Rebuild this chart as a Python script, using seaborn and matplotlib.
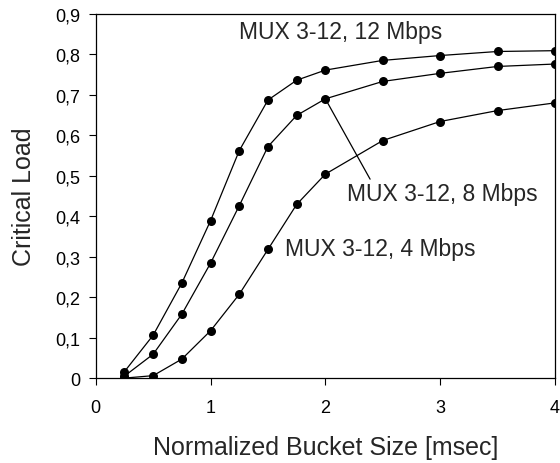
import numpy as np
import pandas as pd
import matplotlib
matplotlib.use("Agg")
import matplotlib.pyplot as plt
from matplotlib.ticker import FuncFormatter
import seaborn as sns

# bucket sizes (msec)
bucket = [0.25, 0.5, 0.75, 1.0, 1.25, 1.5, 1.75, 2.0, 2.5, 3.0, 3.5, 4.0]

# critical load for each line rate
load_12 = [0.016, 0.106, 0.235, 0.389, 0.562, 0.687, 0.736, 0.761, 0.785, 0.797, 0.807, 0.809]
load_8 = [0.005, 0.059, 0.158, 0.284, 0.426, 0.572, 0.649, 0.690, 0.733, 0.753, 0.770, 0.776]
load_4 = [0.0, 0.006, 0.047, 0.117, 0.207, 0.318, 0.429, 0.504, 0.587, 0.634, 0.661, 0.680]

labels = ["MUX 3-12, 12 Mbps", "MUX 3-12, 8 Mbps", "MUX 3-12, 4 Mbps"]

df = pd.DataFrame({
    "bucket": bucket * 3,
    "load": load_12 + load_8 + load_4,
    "series": [labels[0]] * 12 + [labels[1]] * 12 + [labels[2]] * 12,
})

sns.set_style("white")
plt.rcParams["font.family"] = ["Liberation Sans", "DejaVu Sans"]

fig = plt.figure(figsize=(5.6, 4.64), dpi=100)
ax = fig.add_axes([0.171, 0.183, 0.82, 0.785])

sns.lineplot(data=df, x="bucket", y="load", hue="series",
             palette=["black"] * 3, marker="o", markersize=6.5,
             markeredgewidth=0, linewidth=0.9, legend=False, ax=ax)

ax.set_xlim(0, 4)
ax.set_ylim(0, 0.9)
ax.set_xticks([0, 1, 2, 3, 4])
ax.set_yticks(np.arange(0, 0.91, 0.1))
ax.yaxis.set_major_formatter(FuncFormatter(
    lambda v, p: "0" if abs(v) < 1e-9 else f"{v:.1f}".replace(".", ",")))
ax.tick_params(direction="out", length=5, width=0.8, labelsize=13,
               bottom=True, left=True, colors="black")
ax.tick_params(axis="x", pad=10)
ax.tick_params(axis="y", pad=6)
for s in ax.spines.values():
    s.set_color("black")
    s.set_linewidth(0.9)

ax.set_xlabel("Normalized Bucket Size [msec]", fontsize=18, labelpad=14)
ax.set_ylabel("Critical Load", fontsize=18, labelpad=14)

ax.text(2.13, 0.856, labels[0], fontsize=16.5, ha="center", va="center")
ax.annotate(labels[1], xy=(2.0, 0.690), xytext=(3.02, 0.455),
            fontsize=16.5, ha="center", va="center",
            arrowprops=dict(arrowstyle="-", color="black", lw=0.9,
                            shrinkA=0, shrinkB=0, relpos=(0.13, 1.0)))
ax.text(2.48, 0.319, labels[2], fontsize=16.5, ha="center", va="center")

fig.savefig("out.png", dpi=100)
